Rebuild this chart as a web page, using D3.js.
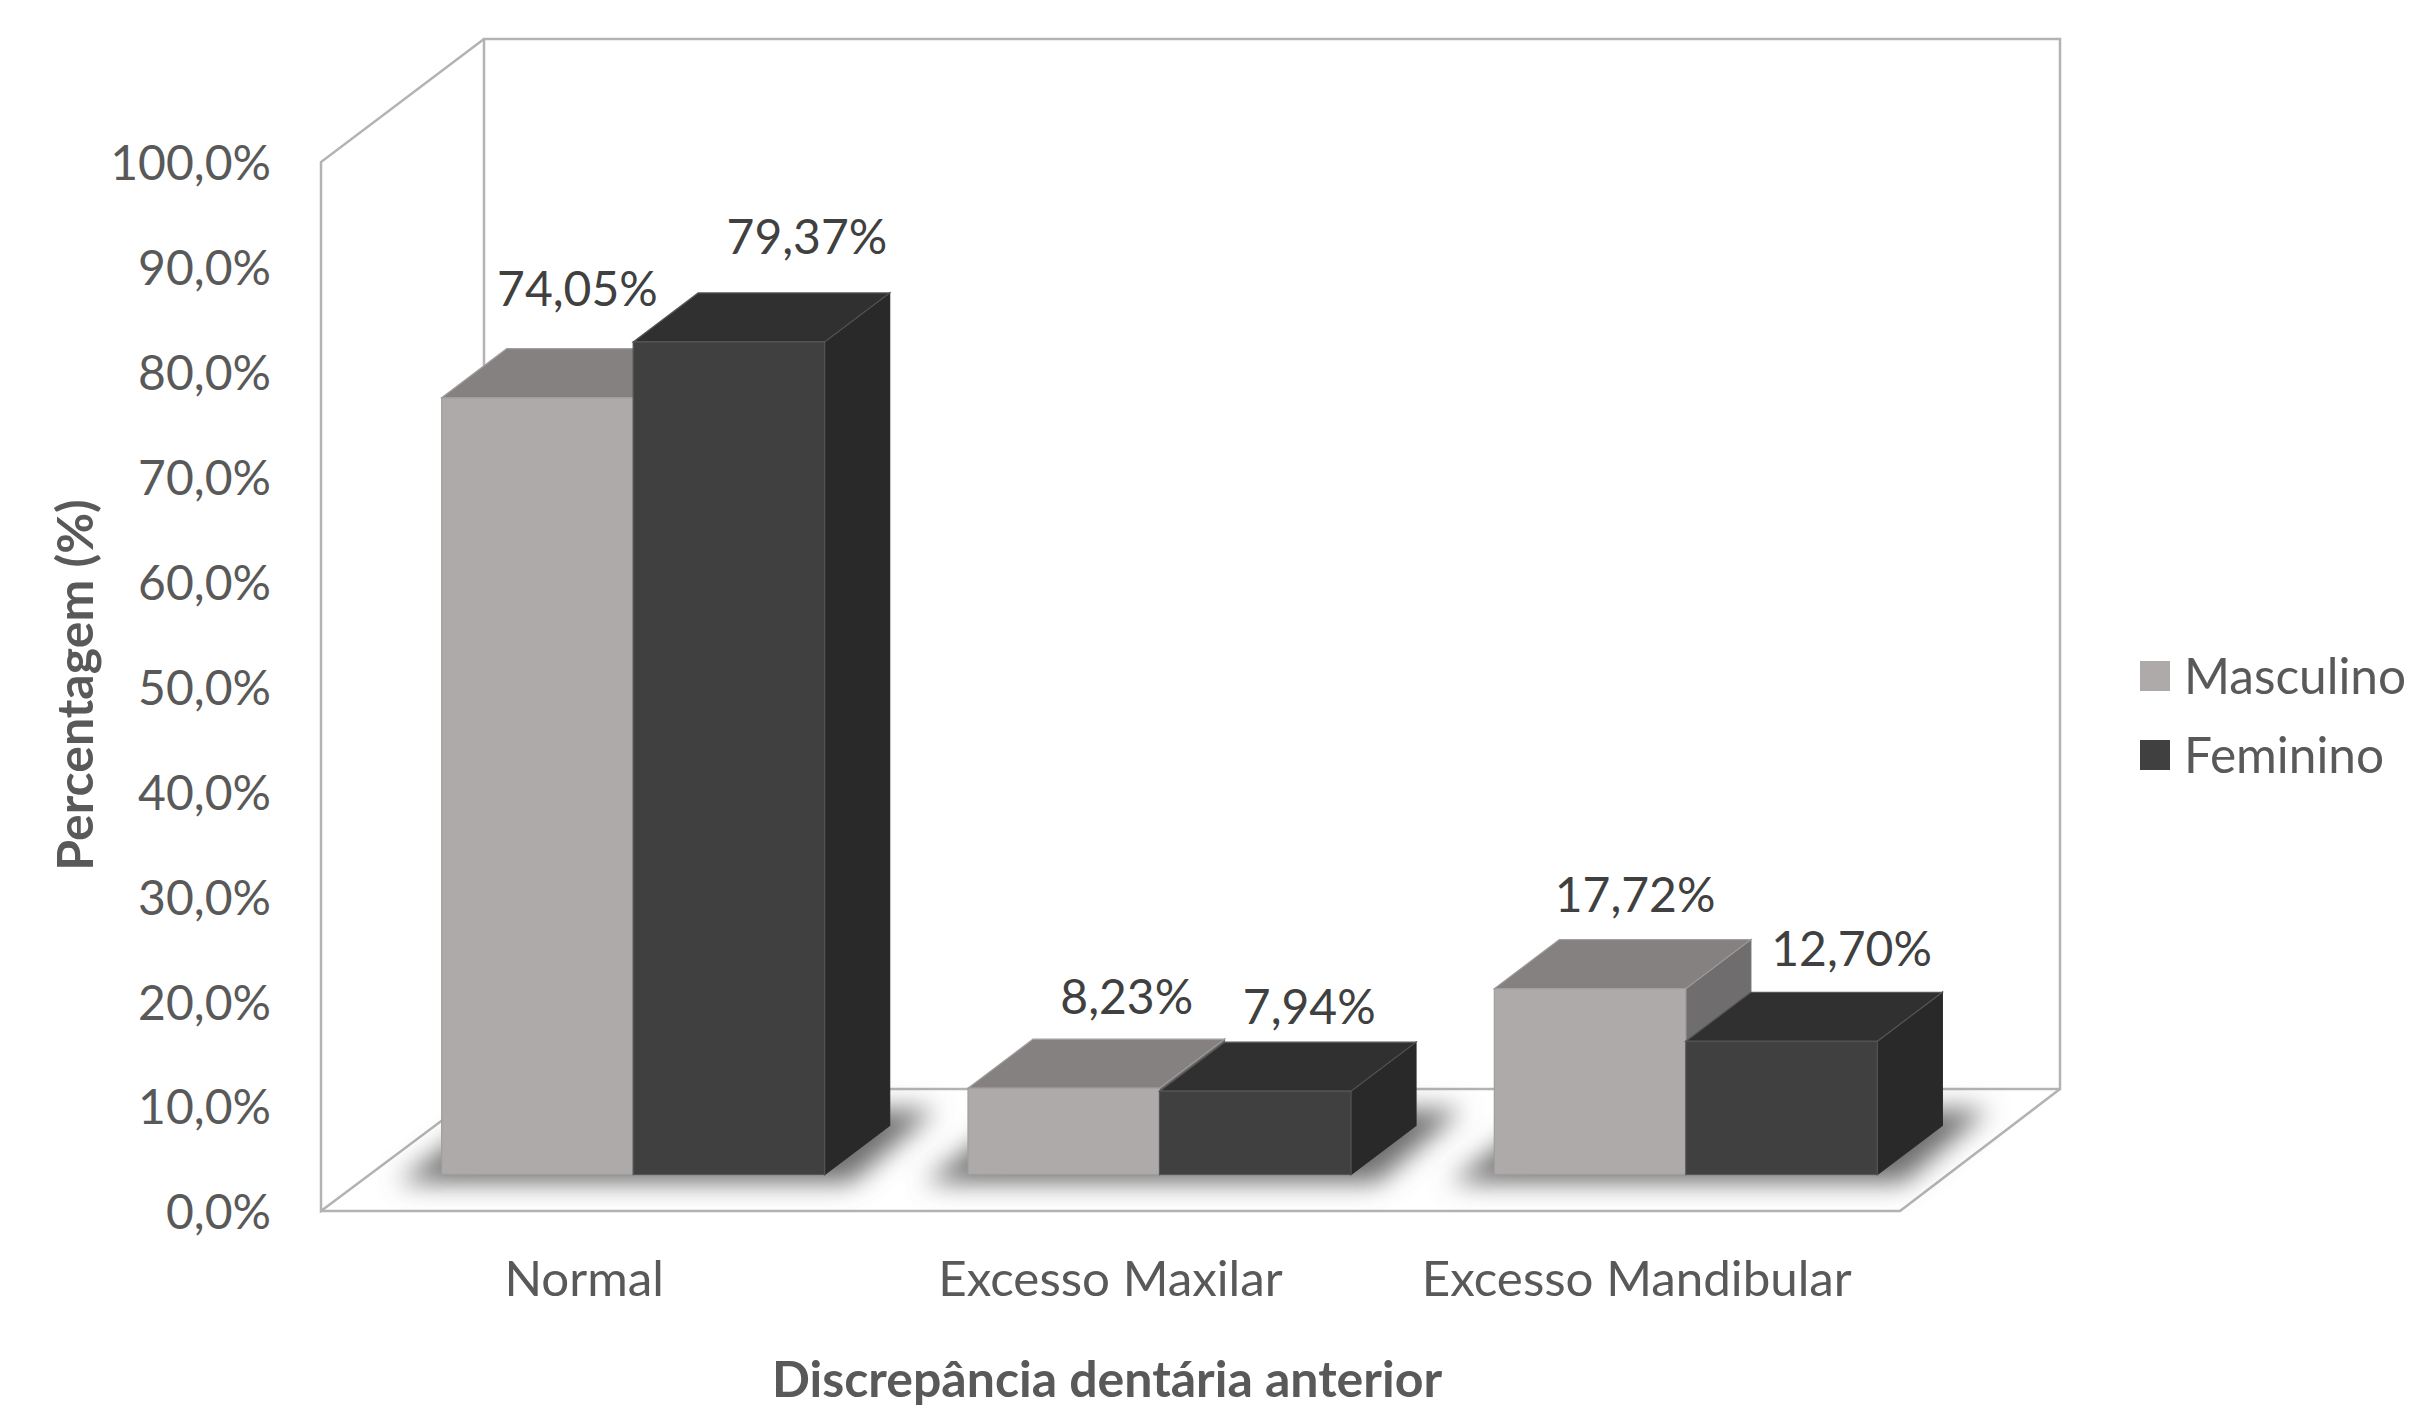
<!DOCTYPE html>
<html><head><meta charset="utf-8">
<script src="https://cdn.jsdelivr.net/npm/d3@7"></script>
<style>
html,body{margin:0;padding:0;background:#fff}
svg{display:block}
text{font-family:Lato,"Open Sans",sans-serif}
.axis path,.axis line{display:none}
</style></head><body>
<svg id="c" width="2409" height="1417"></svg>
<script>
const categories = ["Normal","Excesso Maxilar","Excesso Mandibular"];
const seriesNames = ["Masculino","Feminino"];
const masculino = [74.05,8.23,17.72];
const feminino = [79.37,7.94,12.70];
const masculinoLabels = ["74,05%","8,23%","17,72%"];
const femininoLabels = ["79,37%","7,94%","12,70%"];
const yTicks = [0,10,20,30,40,50,60,70,80,90,100];

// layout
const W = {l:321,r:1900,top:162,bot:1211,dx:163,dy:122};
const barDepth = {dx:65,dy:49}, barShift = {dx:49,dy:36.5};
const barW = 191.5;
const palette = [
  {front:"#aeaaaa",top:"#858180",side:"#6f6d6d",edge:"#a09d9d"},
  {front:"#404040",top:"#303030",side:"#292929",edge:"#555555"}
];
// label nudges relative to each bar's front-top centre [series][category]
const nudges = [[[40,-92],[63,-74],[45,-77],],[[78,-88],[54,-67],[70,-75]]];

const svg = d3.select("#c");
const y = d3.scaleLinear().domain([0,100]).range([W.bot,W.top]);
const x = d3.scaleBand().domain(categories).range([W.l,W.r]);
const line = d3.line();

const defs = svg.append("defs");
defs.append("filter").attr("id","blur").attr("x","-30%").attr("y","-100%").attr("width","160%").attr("height","300%")
  .append("feGaussianBlur").attr("stdDeviation",13);

// walls
const wallC="#b4b2b2";
const walls = svg.append("g").attr("fill","none").attr("stroke",wallC).attr("stroke-width",2.5).attr("stroke-linejoin","miter");
const bx0=W.l+W.dx, bx1=W.r+W.dx-3, bt=W.top-W.dy-1, bb=W.bot-W.dy;
walls.append("path").attr("d",line([[bx0,bb],[bx0,bt],[bx1,bt],[bx1,bb],[bx0,bb]]));
walls.append("path").attr("d",line([[bx0,bt],[W.l,W.top],[W.l,W.bot],[bx0,bb]]));
walls.append("path").attr("d",line([[W.l,W.bot],[W.r,W.bot],[bx1,bb]]));

// shadows
const base = W.bot-barShift.dy;
svg.append("g").selectAll("path").data(categories).join("path")
  .attr("fill","#6e6e6e").attr("filter","url(#blur)")
  .attr("d",c=>{
    const cx=x(c)+x.bandwidth()/2+barShift.dx, a=cx-barW, b=cx+barW;
    return line([[a-44,base+8],[b+26,base+8],[b+barDepth.dx+46,base-barDepth.dy-16],[a+barDepth.dx-10,base-barDepth.dy-16]])+"Z";
  });

// bars
const barsG = svg.append("g");
categories.forEach((c,ci)=>{
  [masculino,feminino].forEach((vals,si)=>{
    const p=palette[si], v=vals[ci];
    const cx=x(c)+x.bandwidth()/2+barShift.dx;
    const x0=si===0?cx-barW:cx, x1=x0+barW;
    const yt=y(v)-barShift.dy, yb=base;
    const d=barDepth;
    const g=barsG.append("g").attr("stroke-width",1.2);
    g.append("path").attr("fill",p.side).attr("stroke",p.side)
      .attr("d",line([[x1,yt],[x1+d.dx,yt-d.dy],[x1+d.dx,yb-d.dy],[x1,yb]])+"Z");
    g.append("path").attr("fill",p.top).attr("stroke",p.edge)
      .attr("d",line([[x0,yt],[x0+d.dx,yt-d.dy],[x1+d.dx,yt-d.dy],[x1,yt]])+"Z");
    g.append("rect").attr("x",x0).attr("y",yt).attr("width",barW).attr("height",yb-yt)
      .attr("fill",p.front).attr("stroke",p.edge);
  });
});

// data labels
const lab = svg.append("g").attr("fill","#404040").attr("font-size",48).attr("text-anchor","middle");
[masculinoLabels,femininoLabels].forEach((labels,si)=>{
  const vals = si===0?masculino:feminino;
  labels.forEach((t,ci)=>{
    const cx=x(categories[ci])+x.bandwidth()/2+barShift.dx+(si===0?-barW/2:barW/2);
    lab.append("text").attr("x",cx+nudges[si][ci][0])
      .attr("y",y(vals[ci])-barShift.dy+nudges[si][ci][1]).text(t);
  });
});

// axes
const yAxis = d3.axisLeft(y).tickValues(yTicks).tickSize(0).tickPadding(0)
  .tickFormat(d=>d3.format(".1f")(d).replace(".",",")+"%");
const gy=svg.append("g").attr("class","axis").attr("transform","translate(271,1)").call(yAxis);
gy.selectAll("text").attr("fill","#595959").attr("font-size",48).attr("font-family","Lato").attr("dy","0.35em");
const xAxis = d3.axisBottom(x).tickSize(0).tickPadding(0);
const gx=svg.append("g").attr("class","axis").attr("transform","translate(0,1296)").call(xAxis);
gx.selectAll("text").attr("fill","#595959").attr("font-size",49.3).attr("font-family","Lato").attr("dy",0).attr("y",0);

// titles
svg.append("text").attr("x",1107).attr("y",1397).attr("text-anchor","middle")
  .attr("font-size",50).attr("font-weight",700).attr("fill","#595959").text("Discrepância dentária anterior");
svg.append("text").attr("transform","translate(93,685) rotate(-90)").attr("text-anchor","middle")
  .attr("font-size",50).attr("font-weight",700).attr("fill","#595959").text("Percentagem (%)");

// legend
const leg=svg.append("g").selectAll("g").data(seriesNames).join("g")
  .attr("transform",(d,i)=>`translate(2140,${661+i*79})`);
leg.append("rect").attr("width",30).attr("height",30).attr("fill",(d,i)=>palette[i].front);
leg.append("text").attr("x",44).attr("y",33).attr("font-size",49.6).attr("fill","#595959").text(d=>d);
</script>
</body></html>
